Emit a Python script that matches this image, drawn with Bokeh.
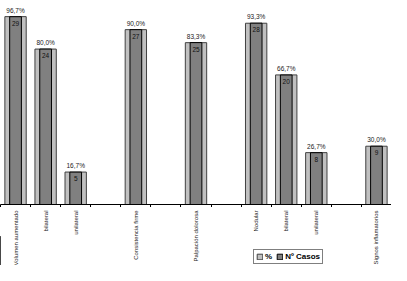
import math
from bokeh.plotting import figure
from bokeh.models import ColumnDataSource, Range1d, FixedTicker, Legend, LegendItem
from bokeh.layouts import column
from bokeh.core.properties import value
from bokeh.embed import file_html
from bokeh.resources import INLINE

categories = ["Volumen aumentado", "bilateral", "unilateral", "", "Consistencia firme", "",
              "Palpación dolorosa", "", "Nodular", "bilateral", "unilateral", "", "Signos inflamatorios"]
pct = [96.7, 80.0, 16.7, None, 90.0, None, 83.3, None, 93.3, 66.7, 26.7, None, 30.0]
casos = [29, 24, 5, None, 27, None, 25, None, 28, 20, 8, None, 9]
total_casos = 30
legend_labels = ["%", "Nº Casos"]

LIGHT, LIGHT_LINE = "#c0c0c0", "#404040"
DARK, DARK_LINE = "#808080", "black"
FONT = value("Liberation Sans")

idx = [i for i, c in enumerate(categories) if c != ""]
xs = [i + 0.5 for i in idx]
src = ColumnDataSource(dict(
    x=xs,
    pct=[pct[i] for i in idx],
    casos=[casos[i] for i in idx],
    pct_lbl=[f"{pct[i]:.1f}".replace(".", ",") + "%" for i in idx],
    casos_lbl=[str(casos[i]) for i in idx],
))

xr = Range1d(0, len(categories))
ytop = 105.0

# main chart
p = figure(width=391, height=207, output_backend="svg", toolbar_location=None,
           x_range=xr, y_range=Range1d(0, ytop),
           y_axis_location=None, min_border_top=0, min_border_left=0, min_border_right=0,
           min_border_bottom=0)
p.extra_y_ranges = {"casos": Range1d(0, total_casos * ytop / 100.0)}
p.outline_line_color = None
p.grid.visible = False

p.vbar(x="x", top="pct", bottom=0, width=0.71, source=src,
       fill_color=LIGHT, line_color=LIGHT_LINE, line_width=1)
p.vbar(x="x", top="casos", bottom=0, width=0.39, source=src, y_range_name="casos",
       fill_color=DARK, line_color=DARK_LINE, line_width=1)

p.text(x="x", y="pct", text="pct_lbl", source=src, text_align="center",
       text_baseline="bottom", y_offset=-3, text_font=FONT, text_font_size="6.5px",
       text_color="#222222")
p.text(x="x", y="casos", text="casos_lbl", source=src, y_range_name="casos",
       text_align="center", text_baseline="top", y_offset=4, text_font=FONT,
       text_font_size="6.5px", text_color="#111111")

ax = p.xaxis[0]
ax.ticker = FixedTicker(ticks=[], minor_ticks=list(range(len(categories) + 1)))
ax.major_tick_out = 0
ax.major_tick_in = 0
ax.minor_tick_out = 3
ax.minor_tick_in = 0
ax.minor_tick_line_color = "black"
ax.axis_line_color = "black"
ax.major_label_standoff = 0
ax.major_label_text_font_size = "0px"

# category labels + legend panel
q = figure(width=391, height=58, output_backend="svg", toolbar_location=None,
           x_range=xr, y_range=Range1d(0, 1), x_axis_location=None, y_axis_location=None,
           min_border_top=0, min_border_left=0, min_border_right=0, min_border_bottom=0)
q.outline_line_color = None
q.grid.visible = False
lsrc = ColumnDataSource(dict(x=xs, y=[1.0] * len(xs), lbl=[categories[i] for i in idx]))
q.text(x="x", y="y", text="lbl", source=lsrc, angle=math.pi / 2, text_align="right",
       text_baseline="middle", y_offset=3, text_font=FONT, text_font_size="6px",
       text_color="#222222")

# legend-only renderers (placed outside the visible x range)
dummy = ColumnDataSource(dict(x=[-5.0], top=[0.5]))
d1 = q.vbar(x="x", top="top", width=0.5, source=dummy, fill_color=LIGHT, line_color=LIGHT_LINE)
d2 = q.vbar(x="x", top="top", width=0.5, source=dummy, fill_color=DARK, line_color=DARK_LINE)
legend = Legend(items=[LegendItem(label=legend_labels[0], renderers=[d1]),
                       LegendItem(label=legend_labels[1], renderers=[d2])],
                orientation="horizontal", location=(253, 1),
                border_line_color="black", border_line_width=1,
                background_fill_color="white", background_fill_alpha=1,
                padding=2, spacing=4, margin=0, glyph_width=7, glyph_height=7,
                label_standoff=2, label_height=7, label_width=0, label_text_font_size="8px",
                label_text_font="Liberation Sans", label_text_font_style="bold",
                label_text_color="black")
q.add_layout(legend, "center")

layout = column(p, q, spacing=0)
open("out.html", "w").write(file_html(layout, INLINE))
